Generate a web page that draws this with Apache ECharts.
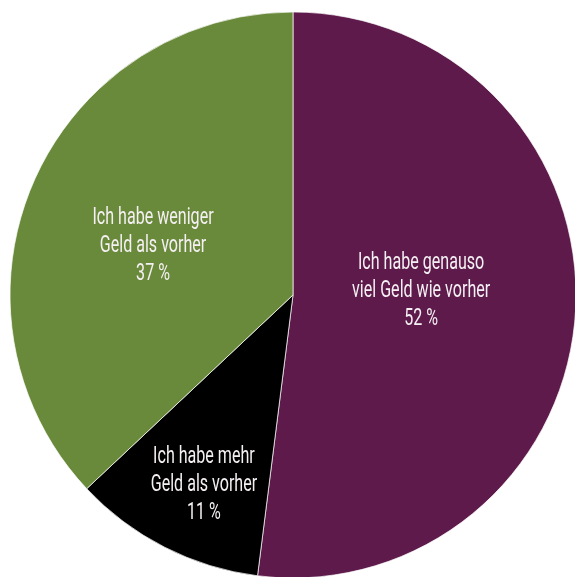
<!DOCTYPE html>
<html>
<head>
<meta charset="utf-8">
<style>
  html, body { margin: 0; padding: 0; background: #ffffff; }
  #chart { width: 575px; height: 577px; }
</style>
<script src="https://cdn.jsdelivr.net/npm/echarts@6/dist/echarts.min.js"></script>
</head>
<body>
<div id="chart"></div>
<script>
// Survey answers, clockwise from 12 o'clock
const categories = [
  'Ich habe genauso\nviel Geld wie vorher',
  'Ich habe mehr\nGeld als vorher',
  'Ich habe weniger\nGeld als vorher'
];
const shares = [52, 11, 37];

// Slice colours and label nudges (px) from the default inside position
const sliceColors = ['#5e1a4b', '#000000', '#6a8a3b'];
const labelShift = [[-24, -13], [-35, 61], [-11, 8]];
// horizontal squeeze giving the labels a condensed face
const labelSquash = 0.67;

const chart = echarts.init(document.getElementById('chart'));

chart.setOption({
  animation: false,
  series: [{
    type: 'pie',
    center: [293, 295],
    radius: [0, 283],
    startAngle: 90,
    clockwise: true,
    avoidLabelOverlap: false,
    data: categories.map((name, i) => ({
      name: name,
      value: shares[i],
      itemStyle: { color: sliceColors[i] }
    })),
    itemStyle: { borderColor: '#ffffff', borderWidth: 0.7 },
    label: {
      show: true,
      position: 'inside',
      color: '#f5f0f3',
      fontFamily: 'Roboto, sans-serif',
      fontSize: 24,
      lineHeight: 28,
      align: 'center',
      formatter: p => p.name + '\n' + p.value + ' %'
    },
    labelLine: { show: false },
    labelLayout: p => ({
      dx: labelShift[p.dataIndex][0],
      dy: labelShift[p.dataIndex][1]
    }),
    emphasis: { disabled: true }
  }]
});

// squeeze the slice labels horizontally around their anchor
const zr = chart.getZr();
const squeezed = new Set();
zr.storage.getDisplayList(true).forEach(el => {
  let label = el.getTextContent && el.getTextContent();
  if (!label && el.type === 'tspan' && el.parent) label = el.parent;
  if (label && !squeezed.has(label)) {
    squeezed.add(label);
    label.scaleX = labelSquash;
    label.markRedraw();
  }
});
zr.refreshImmediately();
</script>
</body>
</html>
